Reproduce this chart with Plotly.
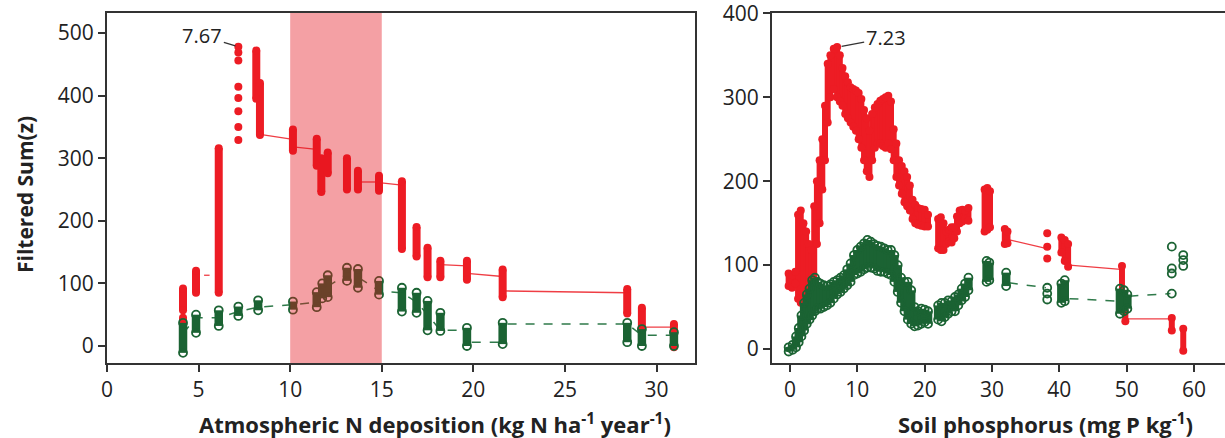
import plotly.graph_objects as go

# ---------------- Left panel: atmospheric N deposition ----------------
# red (decreasers) stacks: x, low, high
LR_x  = [4.15, 4.15, 4.86, 6.10, 8.15, 8.35, 10.15, 11.45, 11.70, 12.05, 13.10, 13.70, 14.85, 16.10, 16.90, 17.50, 18.20, 19.65, 21.60, 28.40, 29.20, 30.95]
LR_lo = [57, 21, 85, 85, 395, 337, 312, 288, 246, 276, 250, 250, 248, 155, 143, 110, 110, 106, 78, 52, 24, -2]
LR_hi = [92, 45, 120, 316, 472, 420, 346, 331, 300, 309, 300, 280, 272, 263, 190, 157, 136, 136, 122, 91, 61, 35]
# isolated red points at the peak change point
LR_dot_x = [7.17, 7.17, 7.17, 7.17, 7.17, 7.17, 7.17, 7.17]
LR_dot_y = [478, 469, 456, 414, 396, 375, 350, 329]
# visible pieces of the red connecting line (None = break)
LRL_x = [5.30, 5.60, None, 8.35, 10.15, None, 10.15, 11.45, None, 13.70, 14.85, None, 14.85, 16.10, None,
         18.20, 19.65, None, 19.65, 21.60, None, 21.60, 28.40, None, 29.20, 30.95]
LRL_y = [113, 113, None, 338, 330, None, 318, 314, None, 262, 262, None, 261, 257, None,
         130, 128, None, 116, 111, None, 88, 85, None, 30, 30]

# green (increasers) stacks
LG_x  = [4.15, 4.86, 6.10, 7.17, 8.25, 10.15, 11.45, 11.75, 12.05, 13.10, 13.70, 14.85, 16.10, 16.90, 17.50, 18.20, 19.65, 21.60, 28.40, 29.20, 30.95]
LG_lo = [-11, 21, 32, 48, 57, 58, 62, 76, 78, 104, 93, 82, 55, 53, 25, 24, 0, 3, 6, 0, 0]
LG_hi = [37, 50, 57, 63, 73, 71, 86, 100, 113, 125, 123, 104, 93, 85, 72, 53, 29, 37, 37, 27, 22]
LGL_x = [4.15, 4.86, 6.10, 7.17, 8.25, 10.15, 11.45, 11.75, 12.05, 13.10, 13.70, 14.85, 16.10, 16.90, 17.50, 18.20, 19.65, 19.65, 21.60, 21.60, 28.40, 29.20, 30.95]
LGL_y = [20, 45, 45, 55, 62, 66, 70, 85, 95, 115, 110, 88, 85, 70, 50, 25, 25, 6, 6, 35, 35, 17, 17]

# ---------------- Right panel: soil phosphorus ----------------
RR_x  = [-0.2, 0.3, 0.8, 1.2, 1.6, 2.0, 2.4, 2.8, 3.2, 3.6, 4.0, 4.4, 4.8, 5.2, 5.6, 6.0, 6.5, 7.0, 7.4, 7.8,
         8.2, 8.6, 9.0, 9.4, 9.8, 10.2, 10.6, 11.0, 11.4, 11.8, 12.2, 12.6, 13.0, 13.4, 13.8, 14.2, 14.6, 15.0,
         15.4, 15.8, 16.2, 16.6, 17.0, 17.4, 17.8, 18.2, 18.6, 19.0, 19.5, 20.0, 20.5,
         22.0, 22.4, 22.8, 23.2, 23.6, 24.0, 24.4, 24.8, 25.2, 25.6, 26.0, 26.5,
         28.9, 29.3, 29.7, 31.9, 32.3, 40.3, 40.8, 41.3, 49.3, 49.8, 56.7, 58.4]
RR_lo = [75, 73, 78, 60, 55, 58, 62, 70, 80, 80, 125, 150, 190, 225, 270, 300, 310, 300, 295, 290,
         280, 275, 270, 265, 260, 250, 240, 225, 212, 205, 225, 240, 245, 245, 242, 240, 245, 238,
         225, 205, 195, 185, 175, 170, 165, 155, 150, 148, 147, 146, 146,
         120, 118, 118, 125, 128, 127, 132, 140, 150, 152, 155, 153,
         140, 142, 145, 125, 126, 115, 105, 98, 60, 33, 22, -2]
RR_hi = [90, 88, 92, 160, 165, 150, 140, 125, 118, 170, 200, 225, 250, 290, 340, 350, 358, 360, 350, 335,
         325, 318, 312, 310, 308, 305, 298, 285, 275, 260, 280, 288, 292, 296, 298, 300, 302, 295,
         262, 245, 225, 218, 212, 205, 195, 178, 172, 168, 167, 166, 160,
         155, 157, 150, 140, 142, 145, 145, 158, 165, 166, 165, 168,
         190, 192, 188, 143, 140, 133, 130, 125, 99, 55, 37, 24]
RR_dot_x = [38.2, 38.2, 38.2]
RR_dot_y = [108, 122, 138]
RRL_x = [32.6, 38.0, None, 41.5, 49.1, None, 49.9, 56.6]
RRL_y = [130, 120, None, 100, 95, None, 36, 36]

RG_x  = [-0.2, 0.4, 0.9, 1.3, 1.7, 2.1, 2.5, 2.9, 3.3, 3.7, 4.1, 4.5, 5.0, 5.5, 6.0, 6.5, 7.0, 7.5, 8.0, 8.5,
         9.0, 9.5, 10.0, 10.5, 11.0, 11.5, 12.0, 12.5, 13.0, 13.5, 14.0, 14.5, 15.0, 15.5, 16.0, 16.5, 17.0,
         17.5, 18.0, 18.5, 19.0, 19.5, 20.0, 20.5,
         22.0, 22.5, 23.0, 23.5, 24.0, 24.5, 25.0, 25.5, 26.0, 26.5,
         29.2, 29.6, 32.1, 40.3, 40.8, 49.0, 49.6, 50.1]
RG_lo = [-3, -1, 2, 8, 15, 22, 30, 35, 40, 45, 48, 48, 50, 52, 55, 60, 65, 68, 72, 76,
         80, 88, 90, 92, 95, 97, 97, 96, 93, 92, 92, 90, 88, 80, 68, 55, 45,
         35, 30, 27, 28, 30, 32, 30,
         35, 33, 38, 42, 45, 45, 52, 58, 62, 70,
         80, 82, 75, 55, 57, 42, 45, 48]
RG_hi = [2, 5, 15, 25, 40, 55, 65, 72, 82, 85, 80, 78, 76, 75, 77, 80, 82, 85, 88, 95,
         102, 112, 118, 122, 126, 130, 128, 125, 123, 122, 120, 118, 118, 112, 100, 85, 80,
         80, 70, 50, 45, 48, 47, 45,
         52, 55, 55, 58, 57, 62, 65, 72, 78, 85,
         105, 103, 91, 78, 82, 72, 70, 65]
RG_dot_x = [38.2, 38.2, 38.2, 56.7, 56.7, 56.7, 56.7, 58.4, 58.4, 58.4]
RG_dot_y = [59, 66, 73, 66, 90, 96, 122, 99, 106, 112]
RGL_x = [32.5, 38.0, None, 41.5, 49.0, None, 50.4, 56.5]
RGL_y = [79, 73, None, 60, 57, None, 63, 66]

X_TICKS_L = [0, 5, 10, 15, 20, 25, 30]
Y_TICKS_L = [0, 100, 200, 300, 400, 500]
X_TICKS_R = [0, 10, 20, 30, 40, 50, 60]
Y_TICKS_R = [0, 100, 200, 300, 400]

RED = "#ed1c24"
GREEN = "#1b6333"
GREEN_LINE = "#2f7a4a"
FONT = "Open Sans"


def stacks(xs, los, his):
    X, Y = [], []
    for x, lo, hi in zip(xs, los, his):
        X += [x, x, None]
        Y += [lo, hi, None]
    return X, Y


fig = go.Figure()


def add_panel(xa, ya, r_x, r_lo, r_hi, r_dx, r_dy, rl_x, rl_y, g_x, g_lo, g_hi, g_dx, g_dy, gl_x, gl_y, rw):
    kw = dict(xaxis=xa, yaxis=ya, showlegend=False, hoverinfo="skip")
    fig.add_trace(go.Scatter(x=rl_x, y=rl_y, mode="lines", connectgaps=False,
                             line=dict(color=RED, width=1.3), opacity=0.85, **kw))
    sx, sy = stacks(r_x, r_lo, r_hi)
    fig.add_trace(go.Scatter(x=sx, y=sy, mode="lines", line=dict(color=RED, width=rw), **kw))
    fig.add_trace(go.Scatter(x=list(r_x) + list(r_x) + list(r_dx), y=list(r_lo) + list(r_hi) + list(r_dy),
                             mode="markers", marker=dict(color=RED, size=8, line=dict(width=0)), **kw))
    fig.add_trace(go.Scatter(x=gl_x, y=gl_y, mode="lines", connectgaps=False,
                             line=dict(color=GREEN_LINE, width=1.5, dash="dash"), **kw))
    sx, sy = stacks(g_x, g_lo, g_hi)
    fig.add_trace(go.Scatter(x=sx, y=sy, mode="lines", line=dict(color=GREEN, width=8.5), **kw))
    fig.add_trace(go.Scatter(x=list(g_x) + list(g_x) + list(g_dx), y=list(g_lo) + list(g_hi) + list(g_dy),
                             mode="markers",
                             marker=dict(symbol="circle-open", color=GREEN, size=8, line=dict(width=1.8)), **kw))


add_panel("x", "y", LR_x, LR_lo, LR_hi, LR_dot_x, LR_dot_y, LRL_x, LRL_y,
          LG_x, LG_lo, LG_hi, [], [], LGL_x, LGL_y, 8)
add_panel("x2", "y2", RR_x, RR_lo, RR_hi, RR_dot_x, RR_dot_y, RRL_x, RRL_y,
          RG_x, RG_lo, RG_hi, RG_dot_x, RG_dot_y, RGL_x, RGL_y, 6)

axis_common = dict(showgrid=False, zeroline=False, showline=True, linewidth=2, linecolor="#333",
                   ticks="outside", ticklen=7, tickwidth=1.5, tickcolor="#333", automargin=False,
                   ticklabeloverflow="allow",
                   tickfont=dict(family=FONT, size=21, color="#222"))

fig.update_layout(
    width=1225, height=438,
    margin=dict(l=0, r=0, t=13, b=75, autoexpand=False),
    paper_bgcolor="white", plot_bgcolor="white",
    xaxis=dict(domain=[107 / 1225, 695 / 1225], range=[0, 32.1], tickvals=X_TICKS_L,
               anchor="y", mirror=True, **axis_common),
    yaxis=dict(domain=[0, 1], range=[-27.2, 532], tickvals=Y_TICKS_L, anchor="x", mirror=True, **axis_common),
    xaxis2=dict(domain=[772 / 1225, 1.0], range=[-2.67, 64.6], tickvals=X_TICKS_R,
                anchor="y2", mirror=True, **axis_common),
    yaxis2=dict(domain=[0, 1], range=[-16.7, 400.5], tickvals=Y_TICKS_R, anchor="x2", **axis_common),
    shapes=[dict(type="rect", xref="x", yref="y", x0=10, x1=15, y0=-27.2, y1=532,
                 fillcolor="rgba(228,18,28,0.4)", line=dict(width=0), layer="above")],
    annotations=[
        dict(text="7.67", x=7.17, y=478, xref="x", yref="y", showarrow=True, arrowhead=0,
             arrowwidth=1.2, arrowcolor="#333", ax=-36, ay=-11, standoff=3,
             font=dict(family=FONT, size=20, color="#222")),
        dict(text="7.23", x=7.23, y=360, xref="x2", yref="y2", showarrow=True, arrowhead=0,
             arrowwidth=1.2, arrowcolor="#333", ax=47, ay=-9, standoff=3,
             font=dict(family=FONT, size=20, color="#222")),
        dict(text="<b>Atmospheric N deposition (kg N ha<sup>-1</sup> year<sup>-1</sup>)</b>",
             x=435 / 1225, y=-(423 - 363) / 350, xref="paper", yref="paper", showarrow=False,
             xanchor="center", yanchor="middle", font=dict(family=FONT, size=22, color="#222")),
        dict(text="<b>Soil phosphorus (mg P kg<sup>-1</sup>)</b>",
             x=1045 / 1225, y=-(423 - 363) / 350, xref="paper", yref="paper", showarrow=False,
             xanchor="center", yanchor="middle", font=dict(family=FONT, size=22, color="#222")),
        dict(text="<b>Filtered Sum(z)</b>", x=25 / 1225, y=(363 - 195) / 350, xref="paper", yref="paper",
             showarrow=False, textangle=-90, xanchor="center", yanchor="middle",
             font=dict(family=FONT, size=21, color="#222")),
    ],
)

fig.write_html("out.html", config={"displayModeBar": False},
               post_script="document.body.style.margin='0';")
